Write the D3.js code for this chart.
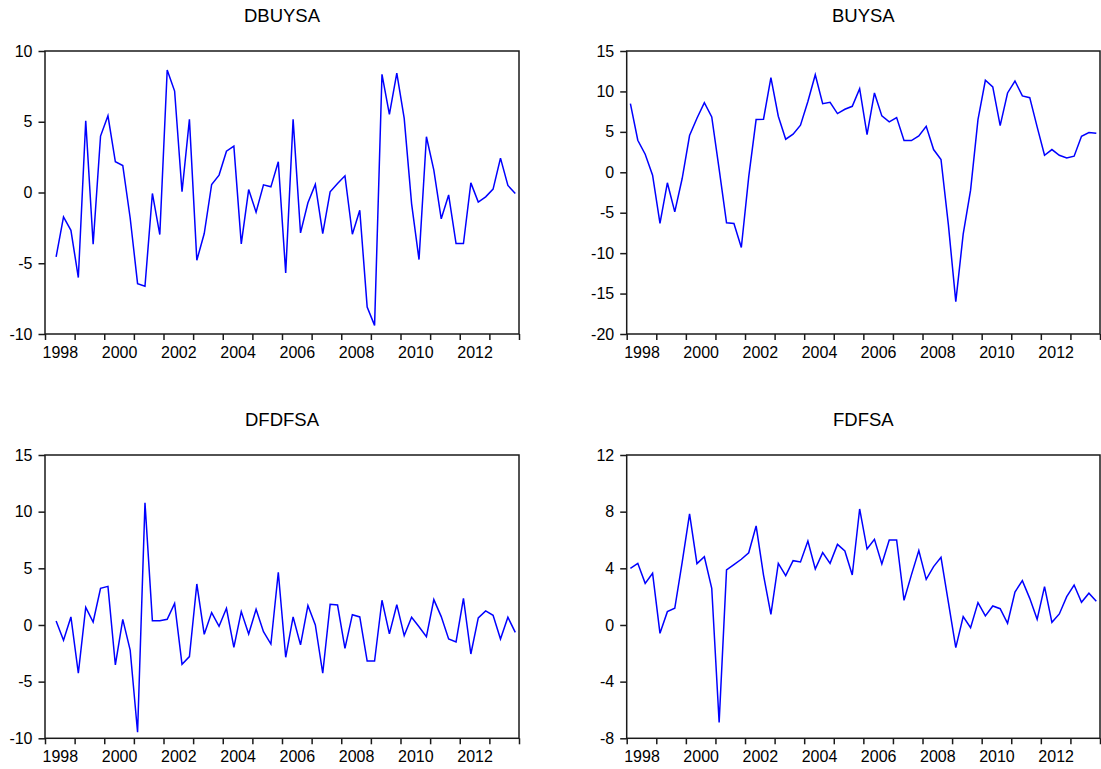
<!DOCTYPE html>
<html>
<head>
<meta charset="utf-8">
<script src="https://cdn.jsdelivr.net/npm/d3@7"></script>
<style>
  html, body { margin: 0; padding: 0; background: #fff; }
  svg { display: block; }
  text { font-family: "Liberation Sans", Arial, sans-serif; fill: #000; }
</style>
</head>
<body>
<svg id="chart" width="1101" height="769"></svg>
<script>
// ---- data (quarterly, 1998Q1 - 2013Q4) ----
const startYear = 1998;
const endYear = 2014;

const dbuysa = [-4.55, -1.72, -2.67, -6.01, 5.07, -3.66, 3.99, 5.42, 2.17, 1.91,
  -1.80, -6.44, -6.63, -0.07, -2.97, 8.66, 7.17, 0.05, 5.17, -4.79,
  -2.90, 0.57, 1.23, 2.92, 3.28, -3.63, 0.21, -1.39, 0.54, 0.40,
  2.17, -5.68, 5.17, -2.85, -0.73, 0.57, -2.90, 0.05, 0.64, 1.18,
  -2.95, -1.25, -8.09, -9.39, 8.35, 5.52, 8.44, 5.24, -0.80, -4.74,
  3.94, 1.58, -1.86, -0.17, -3.61, -3.61, 0.68, -0.68, -0.31, 0.24,
  2.43, 0.50, -0.07];

const buysa = [8.49, 3.96, 2.23, -0.36, -6.33, -1.30, -4.89, -0.77, 4.54, 6.68,
  8.60, 6.84, 0.40, -6.25, -6.33, -9.30, -0.57, 6.52, 6.56, 11.71,
  6.93, 4.09, 4.71, 5.82, 8.76, 12.07, 8.49, 8.65, 7.26, 7.79,
  8.16, 10.35, 4.66, 9.81, 6.97, 6.23, 6.76, 3.92, 3.92, 4.50,
  5.69, 2.81, 1.58, -6.51, -16.0, -7.65, -2.21, 6.52, 11.38, 10.55,
  5.78, 9.81, 11.29, 9.44, 9.23, 5.62, 2.11, 2.81, 2.11, 1.78,
  1.99, 4.46, 4.91, 4.83];

const dfdfsa = [0.35, -1.35, 0.71, -4.26, 1.56, 0.26, 3.24, 3.41, -3.53, 0.50,
  -2.21, -9.47, 10.79, 0.38, 0.38, 0.50, 1.91, -3.47, -2.79, 3.62,
  -0.82, 1.09, -0.12, 1.47, -1.97, 1.18, -0.79, 1.38, -0.59, -1.68,
  4.65, -2.85, 0.71, -1.76, 1.71, 0.00, -4.26, 1.82, 1.76, -2.06,
  0.91, 0.71, -3.18, -3.18, 2.18, -0.79, 1.79, -0.94, 0.68, -0.15,
  -1.03, 2.24, 0.74, -1.24, -1.50, 2.35, -2.56, 0.62, 1.24, 0.85,
  -1.24, 0.68, -0.65];

const fdfsa = [4.00, 4.35, 2.94, 3.65, -0.59, 0.94, 1.18, 4.42, 7.84, 4.33,
  4.82, 2.59, -6.89, 3.89, 4.26, 4.64, 5.10, 6.99, 3.52, 0.75,
  4.35, 3.48, 4.54, 4.45, 5.93, 3.95, 5.11, 4.35, 5.69, 5.22,
  3.53, 8.19, 5.36, 6.05, 4.31, 6.00, 6.00, 1.74, 3.54, 5.25,
  3.22, 4.12, 4.78, 1.60, -1.60, 0.59, -0.19, 1.58, 0.64, 1.34,
  1.15, 0.12, 2.33, 3.13, 1.88, 0.40, 2.71, 0.19, 0.78, 2.00,
  2.82, 1.60, 2.24, 1.67];

const titles = ["DBUYSA", "BUYSA", "DFDFSA", "FDFSA"];
const yTicks1 = [-10, -5, 0, 5, 10];
const yTicks2 = [-20, -15, -10, -5, 0, 5, 10, 15];
const yTicks3 = [-10, -5, 0, 5, 10, 15];
const yTicks4 = [-8, -4, 0, 4, 8, 12];
const yearTicks = d3.range(startYear, endYear + 1);
const yearLabels = d3.range(startYear, endYear, 2);

// ---- layout ----
const panels = [
  { title: titles[0], data: dbuysa, firstQ: 1, ticks: yTicks1, x0: 45,    x1: 519,  y0: 51,  y1: 334 },
  { title: titles[1], data: buysa,  firstQ: 0, ticks: yTicks2, x0: 626.7, x1: 1100, y0: 51,  y1: 334 },
  { title: titles[2], data: dfdfsa, firstQ: 1, ticks: yTicks3, x0: 45,    x1: 519,  y0: 455, y1: 738.3 },
  { title: titles[3], data: fdfsa,  firstQ: 0, ticks: yTicks4, x0: 626.7, x1: 1100, y0: 455, y1: 738.3 }
];

const svg = d3.select("#chart");
const frameColor = "#1a1a1a";

panels.forEach(p => {
  const g = svg.append("g");
  const x = d3.scaleLinear().domain([startYear, endYear]).range([p.x0, p.x1]);
  const y = d3.scaleLinear().domain(d3.extent(p.ticks)).range([p.y1, p.y0]);

  // time of each observation: centre of its quarter
  const pts = p.data.map((v, i) => ({ t: startYear + (i + p.firstQ) / 4 + 0.125, v }));

  // y axis
  const ya = g.append("g")
    .attr("transform", `translate(${p.x0},0)`)
    .call(d3.axisLeft(y).tickValues(p.ticks).tickFormat(d => String(d)).tickSize(6.5).tickPadding(6));
  ya.select(".domain").remove();
  ya.selectAll(".tick line").attr("stroke", frameColor).attr("stroke-width", 1.5);
  ya.selectAll("text").style("font-size", "16px").attr("fill", "#000");

  // x axis: ticks at year starts
  const xa = g.append("g")
    .attr("transform", `translate(0,${p.y1})`)
    .call(d3.axisBottom(x).tickValues(yearTicks).tickFormat("").tickSize(6));
  xa.select(".domain").remove();
  xa.selectAll(".tick line").attr("stroke", frameColor).attr("stroke-width", 1.5);

  // x labels centred in the labelled year
  const xl = g.append("g")
    .attr("transform", `translate(0,${p.y1})`)
    .call(d3.axisBottom(x).tickValues(yearLabels.map(d => d + 0.5))
      .tickFormat(d => String(Math.floor(d))).tickSize(0).tickPadding(12.5));
  xl.select(".domain").remove();
  xl.selectAll("text").style("font-size", "16px").attr("fill", "#000");

  // frame
  g.append("rect")
    .attr("x", p.x0).attr("y", p.y0)
    .attr("width", p.x1 - p.x0).attr("height", p.y1 - p.y0)
    .attr("fill", "none").attr("stroke", frameColor).attr("stroke-width", 1.5);

  // series line
  g.append("path")
    .datum(pts)
    .attr("fill", "none")
    .attr("stroke", "#0000ff")
    .attr("stroke-width", 1.5)
    .attr("stroke-linejoin", "miter")
    .attr("d", d3.line().x(d => x(d.t)).y(d => y(d.v)));

  // title
  g.append("text")
    .attr("x", (p.x0 + p.x1) / 2)
    .attr("y", p.y0 - 29.3)
    .attr("text-anchor", "middle")
    .style("font-size", "18.5px")
    .text(p.title);
});
</script>
</body>
</html>
